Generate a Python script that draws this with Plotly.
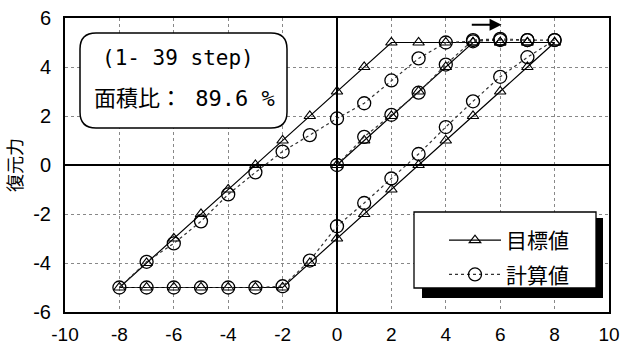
import plotly.graph_objects as go

# ---- data ----
x_steps = [0, 1, 2, 3, 4, 5, 6, 7, 8,
           7, 6, 5, 4, 3, 2, 1, 0, -1, -2, -3, -4, -5, -6, -7, -8,
           -7, -6, -5, -4, -3, -2, -1, 0, 1, 2, 3, 4, 5, 6, 7, 8]
target_y = [0, 1, 2, 3, 4, 5, 5, 5, 5,
            4, 3, 2, 1, 0, -1, -2, -3, -4, -5, -5, -5, -5, -5, -5, -5,
            -4, -3, -2, -1, 0, 1, 2, 3, 4, 5, 5, 5, 5, 5, 5, 5]
calc_y = [0, 1.15, 2.05, 2.95, 4.1, 5.1, 5.15, 5.1, 5.1,
          4.4, 3.6, 2.6, 1.55, 0.45, -0.55, -1.55, -2.5, -3.9, -4.95, -5, -5, -5, -5, -5, -5,
          -3.95, -3.2, -2.3, -1.2, -0.3, 0.55, 1.22, 1.9, 2.52, 3.45, 4.35, 5.0, 5.05, 5.1, 5.1, 5.1]
series_names = ["目標値", "計算値"]
y_title = "復元力"
x_ticks = [-10, -8, -6, -4, -2, 0, 2, 4, 6, 8, 10]
y_ticks = [-6, -4, -2, 0, 2, 4, 6]
x_tick_labels = ["-10", "-8", "-6", "-4", "-2", "0", "2", "4", "6", "8", "10"]
y_tick_labels = ["-6", "-4", "-2", "0", "2", "4", "6"]
box_line1 = "(1- 39 step)"
box_label = "面積比："
box_value = " 89.6 %"

# ---- layout helpers (pixel -> paper) ----
L, R, T, B = 65, 609, 18, 312
W, H = 635, 348
def px(x):
    return (x - L) / (R - L)
def py(y):
    return 1 - (y - T) / (B - T)

def rounded_rect(x0, y0, x1, y1, r):
    rx = r / (R - L)
    ry = r / (B - T)
    a, b, c, d = px(x0), py(y0), px(x1), py(y1)
    return (f"M {a+rx},{b} L {c-rx},{b} Q {c},{b} {c},{b-ry} "
            f"L {c},{d+ry} Q {c},{d} {c-rx},{d} "
            f"L {a+rx},{d} Q {a},{d} {a},{d+ry} "
            f"L {a},{b-ry} Q {a},{b} {a+rx},{b} Z")

fig = go.Figure()
fig.add_trace(go.Scatter(
    x=x_steps, y=target_y, name=series_names[0], mode="lines+markers",
    line=dict(color="black", width=1.2),
    marker=dict(symbol="triangle-up-open", size=10, color="black", line=dict(width=1.2)),
    legendgroup="a"))
fig.add_trace(go.Scatter(
    x=x_steps, y=calc_y, name=series_names[1], mode="lines+markers",
    line=dict(color="#333333", width=1.2, dash="dot"),
    marker=dict(symbol="circle-open", size=13, color="black", line=dict(width=1.3)),
    legendgroup="b"))

shapes = [
    # legend shadow + box
    dict(type="rect", xref="paper", yref="paper", x0=px(422), x1=px(603), y0=py(218), y1=py(298),
         fillcolor="black", line=dict(width=0), layer="above"),
    dict(type="rect", xref="paper", yref="paper", x0=px(414), x1=px(596), y0=py(212), y1=py(288),
         fillcolor="white", line=dict(color="black", width=1.3), layer="above"),
    # rounded text box
    dict(type="path", xref="paper", yref="paper", path=rounded_rect(80, 33, 287, 128, 16),
         fillcolor="white", line=dict(color="black", width=1.5), layer="above"),
]

mono = "DejaVu Sans Mono"
cjk = "Noto Sans CJK JP"
annotations = [
    dict(xref="paper", yref="paper", x=px(178), y=py(58), text=box_line1,
         showarrow=False, font=dict(family=mono, size=21, color="black"),
         xanchor="center", yanchor="middle"),
    dict(xref="paper", yref="paper", x=px(184), y=py(96),
         text=f"{box_label}<span style='font-family:{mono}'>{box_value}</span>",
         showarrow=False, font=dict(family=cjk, size=22, color="black"),
         xanchor="center", yanchor="middle"),
    dict(x=6.05, y=5.72, ax=4.9, ay=5.72, xref="x", yref="y", axref="x", ayref="y",
         text="", showarrow=True, arrowhead=2, arrowsize=1.2, arrowwidth=2, arrowcolor="black"),
]

fig.update_layout(
    width=W, height=H,
    margin=dict(l=L, r=W - R, t=T, b=H - B),
    paper_bgcolor="white", plot_bgcolor="white",
    font=dict(family="Liberation Sans", color="black"),
    showlegend=True,
    legend=dict(x=px(444), y=py(220), xanchor="left", yanchor="top",
                bgcolor="rgba(0,0,0,0)", borderwidth=0,
                font=dict(family=cjk, size=21, color="black"),
                traceorder="grouped", tracegroupgap=4, itemwidth=52),
    shapes=shapes, annotations=annotations,
    xaxis=dict(range=[-10, 10], tickmode="array", tickvals=x_ticks, ticktext=x_tick_labels,
               showgrid=True, gridcolor="#888888", griddash="dot", gridwidth=1,
               zeroline=True, zerolinecolor="black", zerolinewidth=2,
               showline=True, linecolor="black", linewidth=2, mirror=True,
               ticks="", ticklabelstandoff=4, automargin=False,
               tickfont=dict(size=19, family="Liberation Sans", color="black")),
    yaxis=dict(range=[-6, 6], tickmode="array", tickvals=y_ticks, ticktext=y_tick_labels,
               showgrid=True, gridcolor="#888888", griddash="dot", gridwidth=1,
               zeroline=True, zerolinecolor="black", zerolinewidth=2,
               showline=True, linecolor="black", linewidth=2, mirror=True,
               ticks="", ticklabelstandoff=8, automargin=False,
               tickfont=dict(size=20, family="Liberation Sans", color="black"),
               title=dict(text=y_title, font=dict(family=cjk, size=18, color="black"),
                          standoff=6)),
)

fig.write_html("out.html")
